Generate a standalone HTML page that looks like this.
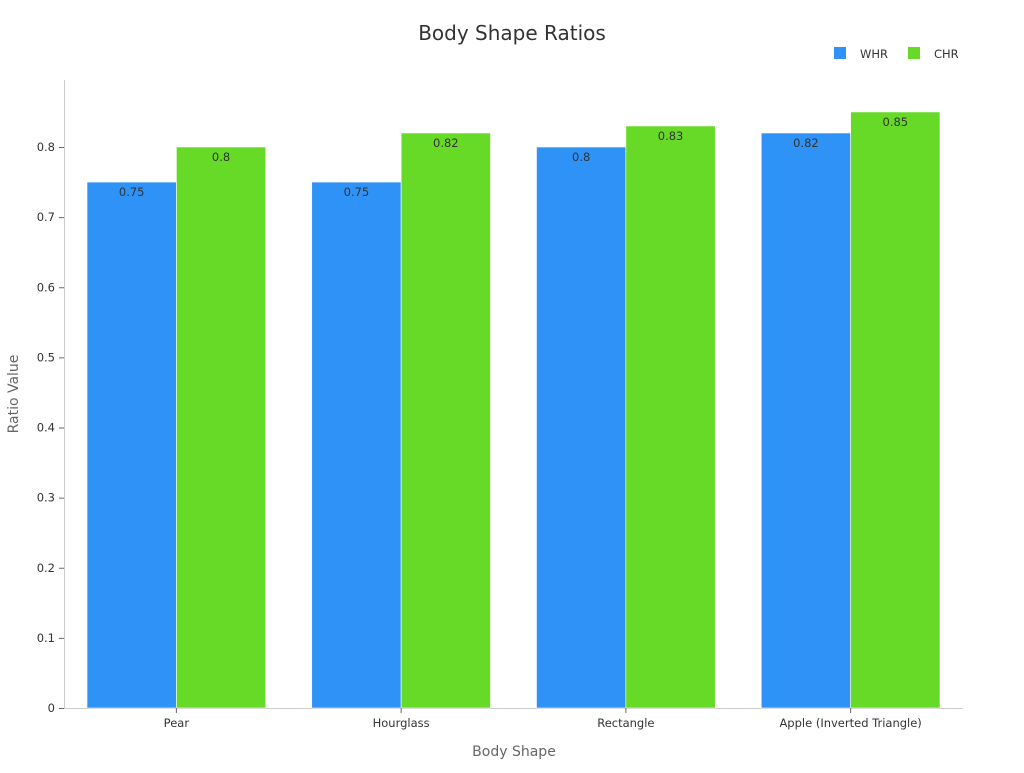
<!DOCTYPE html>
<html><head><meta charset="utf-8"><style>
body{margin:0;background:#fff;}
svg text{font-family:"DejaVu Sans","Liberation Sans",sans-serif;}
</style></head><body>
<svg id="chart" width="1024" height="768" xmlns="http://www.w3.org/2000/svg">
<text x="512" y="40" text-anchor="middle" font-size="20" fill="#333">Body Shape Ratios</text>
<g>
<rect x="834" y="47" width="12" height="12" fill="#2f92f7"/>
<text x="860" y="58" font-size="11.5" fill="#333">WHR</text>
<rect x="908" y="47" width="12" height="12" fill="#66da26"/>
<text x="934" y="58" font-size="11.5" fill="#333">CHR</text>
</g>
<line x1="64.5" y1="80" x2="64.5" y2="708" stroke="#ccc"/>
<line x1="64" y1="708.5" x2="963" y2="708.5" stroke="#ccc"/>
<g id="yticks"></g><g id="bars"></g><g id="xticks"></g>
<text transform="translate(18,394) rotate(-90)" text-anchor="middle" font-size="14" fill="#666">Ratio Value</text>
<text x="514" y="756" text-anchor="middle" font-size="14" fill="#666">Body Shape</text>
</svg>
<script>
const categories=["Pear","Hourglass","Rectangle","Apple (Inverted Triangle)"];
const whr=[0.75,0.75,0.8,0.82];
const chr=[0.8,0.82,0.83,0.85];
const yTicks=[0,0.1,0.2,0.3,0.4,0.5,0.6,0.7,0.8];
const NS="http://www.w3.org/2000/svg";
const x0=64,x1=963,y0=708,per=(708-147)/0.8;
const y=v=>y0-v*per;
const band=(x1-x0)/categories.length,pad=23,bw=(band-2*pad)/2;
function mk(t,a,p){const e=document.createElementNS(NS,t);for(const k in a)e.setAttribute(k,a[k]);p.appendChild(e);return e;}
const yt=document.getElementById('yticks');
yTicks.forEach(v=>{
 const l=mk('line',{x1:59,x2:64,y1:y(v)+0.5,y2:y(v)+0.5,stroke:'#666'},yt);
 
 
 const t=mk('text',{x:55,y:y(v)+4,'text-anchor':'end','font-size':11.5,fill:'#333'},yt);
 
 
 t.textContent=String(v);
});
const bg=document.getElementById('bars'),xt=document.getElementById('xticks');
categories.forEach((c,i)=>{
 const bx=x0+i*band+pad;
 [[whr[i],'#2f92f7','whr'],[chr[i],'#66da26','chr']].forEach((s,j)=>{
  const r=mk('rect',{x:bx+j*bw,y:y(s[0]),width:bw,height:y0-y(s[0]),fill:s[1],stroke:'#fff','stroke-width':0.6},bg);
  
  
  const t=mk('text',{x:bx+j*bw+bw/2,y:y(s[0])+14,'text-anchor':'middle','font-size':11.5,fill:'#333'},bg);
  
  
  t.textContent=String(s[0]);
 });
 const cx=x0+i*band+band/2;
 const tk=mk('line',{x1:cx,x2:cx,y1:708,y2:713,stroke:'#666'},xt);
 
 
 const t=mk('text',{x:cx,y:727,'text-anchor':'middle','font-size':11.5,fill:'#333'},xt);
 
 
 t.textContent=c;
});
</script>
</body></html>
